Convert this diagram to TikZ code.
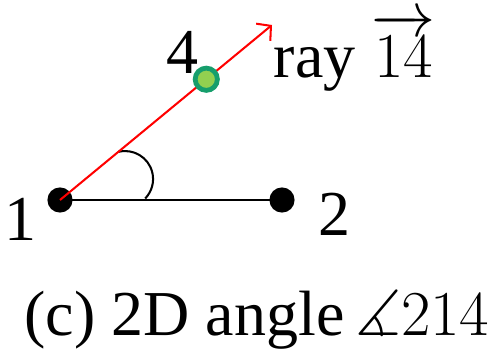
\documentclass[tikz,border=0pt]{standalone}
\usepackage{amsmath, amssymb}
\usepackage{fontspec}
\setmainfont{Liberation Serif}
\usepackage{xcolor}
\usetikzlibrary{arrows.meta,positioning,calc}

\definecolor{ringgreen}{HTML}{169E6C}
\definecolor{fillgreen}{HTML}{92D050}

\begin{document}
\begin{tikzpicture}[
    x=0.27pt, y=0.27pt,
    >={Straight Barb[length=2.7pt, width=6pt]},
    vertex/.style={
        circle, fill=black, inner sep=0pt, minimum size=6.8pt
    },
    marked/.style={
        circle, draw=ringgreen, fill=fillgreen, line width=1.3pt,
        inner sep=0pt, minimum size=6pt
    },
    lbl/.style={
        font=\fontsize{17.28}{19}\selectfont, inner sep=0pt
    },
    rayline/.style={
        draw=red, line width=0.55pt
    }
]
    \useasboundingbox (0,0) rectangle (497,348);

    % Points
    \node [vertex] (v1) at (60,148) {};
    \node [vertex] (v2) at (282,148) {};
    \coordinate (tip) at (272,323);

    % Segment and angle mark
    \draw [line width=0.55pt] (v1.center) -- (v2.center);
    \draw [line width=0.55pt] ($(v1.center)!0.275!(tip)$) arc[start angle=104, end angle=-44, radius=28];

    % Ray
    \draw [rayline, ->] (v1.center) -- (tip);
    \node [marked] (v4) at ($(v1.center)!0.69!(tip)$) {};

    % Labels
    \node [lbl] (l1) at (20,129) {1};
    \node [lbl] (l2) at (334,134) {2};
    \node [lbl] (l4) at (182,296) {4};
    \node [lbl, anchor=base west] (rayname) at (273,270) {ray $\overrightarrow{14}$};
    \node [lbl, anchor=base] (caption) at (257,13) {(c) 2D angle\,$\measuredangle 214$};

\end{tikzpicture}
\end{document}
